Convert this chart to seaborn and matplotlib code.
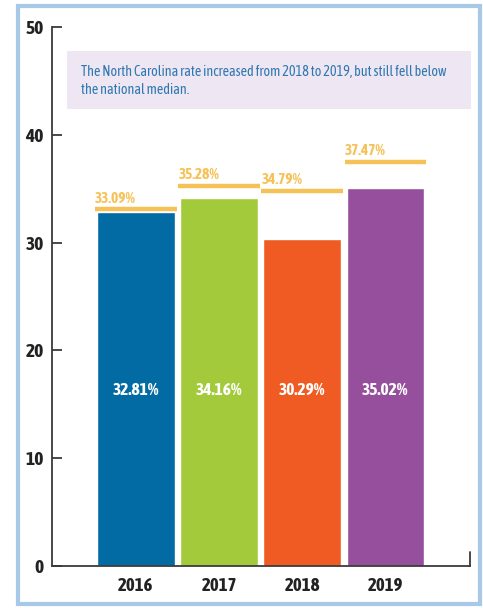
import matplotlib
matplotlib.use("Agg")
import matplotlib.pyplot as plt
import seaborn as sns
import pandas as pd
from matplotlib.patches import Rectangle
from matplotlib import font_manager as fm

years = ["2016", "2017", "2018", "2019"]
nc_rate = [32.81, 34.16, 30.29, 35.02]
national_median = [33.09, 35.28, 34.79, 37.47]
bar_colors = ["#036BA3", "#A3CA3B", "#EF5B23", "#964F9D"]
yticks = [0, 10, 20, 30, 40, 50]
note = "The North Carolina rate increased from 2018 to 2019, but still fell below\nthe national median."

sns.set_style("white")

# look for a narrow/condensed face, preferring one with a bold weight
entries = [f for f in fm.fontManager.ttflist
           if ("Narrow" in f.name or "Condensed" in f.name)]
def _w(f):
    w = f.weight
    if isinstance(w, str):
        w = {"bold": 700, "heavy": 800, "black": 900, "semibold": 600,
             "demibold": 600}.get(w.lower(), 400)
    return w
bold_names = sorted({f.name for f in entries if _w(f) >= 600 and f.style == "normal"})
all_names = sorted({f.name for f in entries})
narrow = bold_names[0] if bold_names else (all_names[0] if all_names else None)
FONT = [narrow, "DejaVu Sans"] if narrow else ["DejaVu Sans"]
plt.rcParams["font.family"] = FONT
k = 1.0 if narrow else 0.78
BW = "bold"

W, H = 483, 608
fig = plt.figure(figsize=(W / 100, H / 100), dpi=100)
ax = fig.add_axes([52 / W, (H - 566) / H, (470 - 52) / W, (566 - 27) / H])

df = pd.DataFrame({"year": years, "rate": nc_rate})
sns.barplot(data=df, x="year", y="rate", hue="year", palette=bar_colors,
            width=0.93, legend=False, ax=ax, saturation=1)

median_color = "#F6C257"
for i, (v, m) in enumerate(zip(nc_rate, national_median)):
    ax.hlines(m, i - 0.49, i + 0.49, color=median_color, lw=3.2, zorder=3)
    ax.text(i - 0.49, m + 0.35, f"{m:.2f}%", color=median_color, fontsize=11 * k,
            fontweight=BW, ha="left", va="bottom")
    ax.text(i, 16.3, f"{v:.2f}%", color="white", fontsize=12.5 * k,
            fontweight=BW, ha="center", va="center")

ax.set_xlim(-1.01, 4.02)
ax.set_ylim(0, 50)
ax.set_yticks(yticks)
ax.set_xlabel("")
ax.set_ylabel("")
for s in ["top", "right"]:
    ax.spines[s].set_visible(False)
for s in ["left", "bottom"]:
    ax.spines[s].set_color("#3a3a3a")
    ax.spines[s].set_linewidth(1.3)
ax.tick_params(axis="y", direction="in", length=7, width=1.3, color="#3a3a3a",
               left=True, pad=6, labelsize=14 * k, labelcolor="#222222")
ax.tick_params(axis="x", length=0, pad=8, labelsize=13.5 * k, labelcolor="#222222")
for lab in ax.get_yticklabels() + ax.get_xticklabels():
    lab.set_fontweight(BW)
# small end tick at right of x-axis
tr = matplotlib.transforms.blended_transform_factory(ax.transAxes, ax.transData)
ax.plot([1, 1], [0, 1.3], transform=tr, color="#3a3a3a", lw=1.3, clip_on=False)

# annotation box
fig.patches.append(Rectangle((67 / W, (H - 109) / H), (471 - 67) / W, 58 / H,
                             transform=fig.transFigure, facecolor="#EEE7F3",
                             edgecolor="none", zorder=0))
fig.text(81 / W, (H - 81) / H, note, color="#2F78B0",
         fontsize=10.2 if narrow else 6.9,
         ha="left", va="center", linespacing=1.4 if narrow else 1.75)

# outer frame
fig.patches.append(Rectangle((18 / W, 4 / H), (480 - 18) / W, (602 - 4) / H,
                             transform=fig.transFigure, facecolor="none",
                             edgecolor="#A8C8E8", lw=3, zorder=0))

fig.savefig("out.png", dpi=100)
